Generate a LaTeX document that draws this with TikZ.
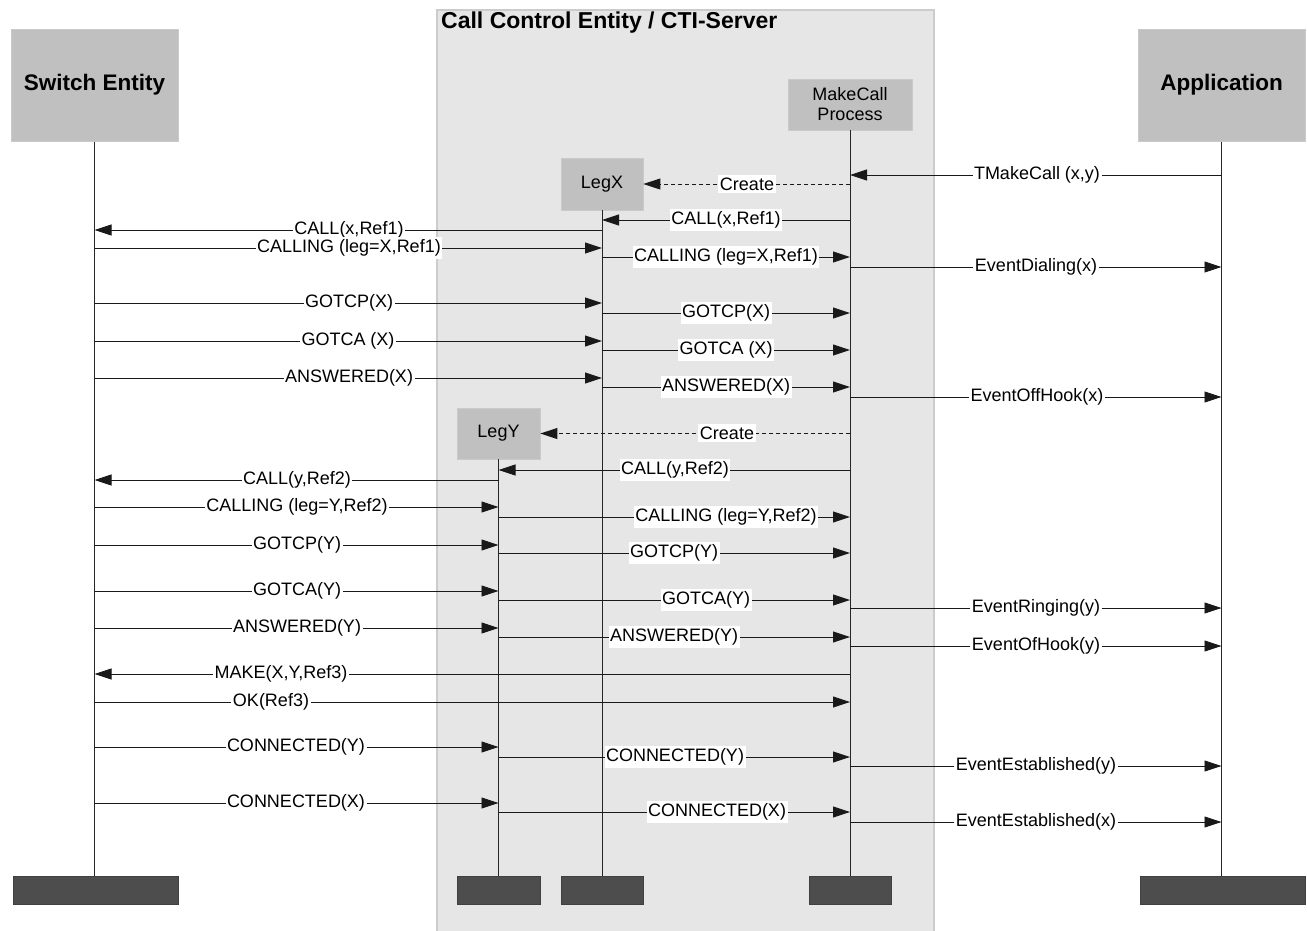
\documentclass[tikz,border=0pt]{standalone}
\usepackage{fontspec}
\setmainfont{Liberation Sans}
\usetikzlibrary{arrows.meta}
\definecolor{boxgrey}{HTML}{C0C0C0}
\definecolor{boxedge}{HTML}{CACACA}
\definecolor{areagrey}{HTML}{E6E6E6}
\definecolor{areaedge}{HTML}{CCCCCC}
\definecolor{endgrey}{HTML}{4D4D4D}
\newcommand\sendmsg[5]{\draw[msg] (#1|-0,#3) -- (#2|-0,#3); \node[lbl] at (#4,#3) {#5};}
\begin{document}
\begin{tikzpicture}[x=1pt,y=-1pt,
  actor/.style={fill=boxgrey, draw=boxedge, line width=1pt, inner sep=0pt, align=center, minimum width=167pt, minimum height=112pt, font=\fontsize{22.5}{26}\selectfont\bfseries},
  proc/.style={fill=boxgrey, draw=boxedge, line width=0.8pt, inner sep=0pt, align=center, font=\fontsize{18}{20}\selectfont},
  endbox/.style={fill=endgrey, draw=black!75, line width=1pt, inner sep=0pt, minimum height=28pt},
  life/.style={line width=0.9pt, draw=black!85},
  msg/.style={line width=0.9pt, draw=black!90, -{Triangle[length=17pt,width=11pt]}},
  create/.style={msg, dash pattern=on 4pt off 3pt},
  lbl/.style={fill=white, inner xsep=1.5pt, inner ysep=2.5pt, font=\fontsize{18}{20}\selectfont}
]
\useasboundingbox (0,0) rectangle (1307,930);
% container
\node[fill=areagrey, draw=areaedge, line width=1.5pt, minimum width=497pt, minimum height=940pt, anchor=north west, inner sep=0pt] (cce) at (436,9) {};
\node[anchor=west, inner sep=0pt, font=\fontsize{23}{27}\selectfont\bfseries] (ttl) at (441,23) {Call Control Entity / CTI-Server};
% heads
\node[actor] (se) at (94.5,85) {Switch Entity};
\node[actor] (app) at (1221.5,85) {Application};
\node[proc, minimum width=124pt, minimum height=51pt] (mc) at (850,104.5) {MakeCall\\Process};
\node[proc, minimum width=82pt, minimum height=52pt] (lx) at (602,184) {LegX};
\node[proc, minimum width=83pt, minimum height=51pt] (ly) at (498.5,433.5) {LegY};
% ends
\node[endbox, minimum width=165pt] (seE) at (95.5,890) {};
\node[endbox, minimum width=83pt] (lyE) at (498.5,890) {};
\node[endbox, minimum width=82pt] (lxE) at (602,890) {};
\node[endbox, minimum width=82pt] (mcE) at (850,890) {};
\node[endbox, minimum width=165pt] (appE) at (1222.5,890) {};
% lifelines
\draw[life] (se.south) -- (se.south|-seE.north);
\draw[life] (app.south) -- (app.south|-appE.north);
\draw[life] (mc.south) -- (mc.south|-mcE.north);
\draw[life] (lx.south) -- (lx.south|-lxE.north);
\draw[life] (ly.south) -- (ly.south|-lyE.north);
% messages
\sendmsg{app}{mc}{175}{1037}{TMakeCall (x,y)}
\draw[create] (mc|-lx.east) -- (lx.east); \node[lbl] at (747,184) {Create};
\sendmsg{mc}{lx}{220}{726}{CALL(x,Ref1)}
\sendmsg{lx}{se}{230}{349}{CALL(x,Ref1)}
\sendmsg{se}{lx}{248}{349}{CALLING (leg=X,Ref1)}
\sendmsg{lx}{mc}{257}{726}{CALLING (leg=X,Ref1)}
\sendmsg{mc}{app}{267}{1036}{EventDialing(x)}
\sendmsg{se}{lx}{303}{349}{GOTCP(X)}
\sendmsg{lx}{mc}{313}{726}{GOTCP(X)}
\sendmsg{se}{lx}{341}{348}{GOTCA (X)}
\sendmsg{lx}{mc}{350}{726}{GOTCA (X)}
\sendmsg{se}{lx}{378}{349}{ANSWERED(X)}
\sendmsg{lx}{mc}{387}{726}{ANSWERED(X)}
\sendmsg{mc}{app}{397}{1037}{EventOffHook(x)}
\draw[create] (mc|-ly.east) -- (ly.east); \node[lbl] at (727,433) {Create};
\sendmsg{mc}{ly}{470}{675}{CALL(y,Ref2)}
\sendmsg{ly}{se}{480}{297}{CALL(y,Ref2)}
\sendmsg{se}{ly}{507}{297}{CALLING (leg=Y,Ref2)}
\sendmsg{ly}{mc}{517}{726}{CALLING (leg=Y,Ref2)}
\sendmsg{se}{ly}{545}{297}{GOTCP(Y)}
\sendmsg{ly}{mc}{553}{674}{GOTCP(Y)}
\sendmsg{se}{ly}{591}{297}{GOTCA(Y)}
\sendmsg{ly}{mc}{600}{706}{GOTCA(Y)}
\sendmsg{mc}{app}{608}{1036}{EventRinging(y)}
\sendmsg{se}{ly}{628}{297}{ANSWERED(Y)}
\sendmsg{ly}{mc}{637}{674}{ANSWERED(Y)}
\sendmsg{mc}{app}{646}{1036}{EventOfHook(y)}
\sendmsg{mc}{se}{674}{281}{MAKE(X,Y,Ref3)}
\sendmsg{se}{mc}{702}{271}{OK(Ref3)}
\sendmsg{se}{ly}{747}{296}{CONNECTED(Y)}
\sendmsg{ly}{mc}{757}{675}{CONNECTED(Y)}
\sendmsg{mc}{app}{766}{1036}{EventEstablished(y)}
\sendmsg{se}{ly}{803}{296}{CONNECTED(X)}
\sendmsg{ly}{mc}{812}{717}{CONNECTED(X)}
\sendmsg{mc}{app}{822}{1036}{EventEstablished(x)}
\end{tikzpicture}
\end{document}
